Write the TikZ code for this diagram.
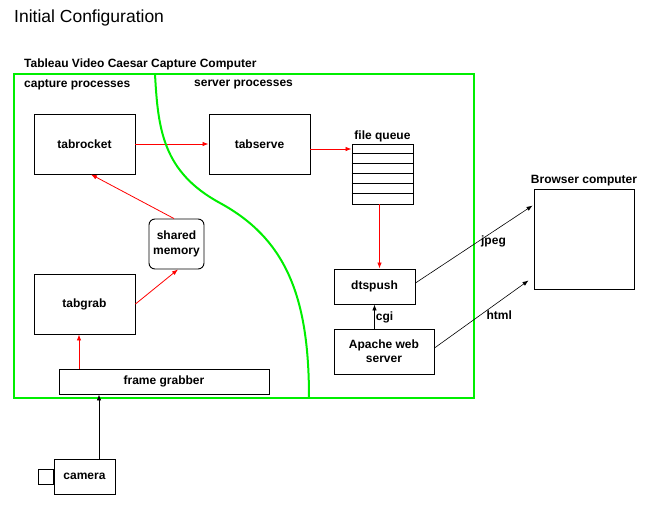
\documentclass[tikz,border=0pt]{standalone}
\usepackage{fontspec}
\setmainfont{Liberation Sans}
\usetikzlibrary{arrows.meta}
\definecolor{framegreen}{RGB}{0,238,0}

\begin{document}
\begin{tikzpicture}[x=1pt,y=-1pt,
  box/.style={draw, line width=0.9pt, inner sep=0pt, align=center,
    font=\fontsize{12}{14.5}\selectfont\bfseries},
  lbl/.style={inner sep=1pt, font=\fontsize{12}{14}\selectfont\bfseries},
  redarrow/.style={red, line width=0.8pt, -{Latex[length=6pt,width=4.5pt]}},
  blkarrow/.style={black, line width=0.7pt, -{Latex[length=6pt,width=4.5pt]}},
  greenline/.style={framegreen, line width=2pt}]

 \useasboundingbox (0,0) rectangle (656,506);

 \node[anchor=west, inner sep=0pt, font=\fontsize{17.5}{20}\selectfont] (title) at (14,18) {Initial Configuration};

% Capture computer frame
 \draw[greenline] (14,74) rectangle (474,398);
 \node[lbl, anchor=west] (computer) at (23,64) {Tableau Video Caesar Capture Computer};
 \node[lbl, anchor=west] (capture) at (23,85) {capture processes};
 \node[lbl, anchor=west] (server) at (193,85) {server processes};

% Processes
 \node[box, minimum width=101, minimum height=60] (tabrocket) at (84.5,144) {tabrocket};
 \node[box, minimum width=101, minimum height=60] (tabserve) at (259.5,144) {tabserve};
 \node[box, minimum width=101, minimum height=60] (tabgrab) at (84.5,304) {tabgrab};
 \node[box, minimum width=55, minimum height=50, rounded corners=6pt,
   font=\fontsize{12}{15}\selectfont\bfseries] (shared) at (176.5,244) {shared\\memory};
 \node[box, minimum width=210, minimum height=25] (grabber) at (164,381.5) {frame grabber};

% File queue with its slots
 \node[box, minimum width=61, minimum height=60] (queue) at (382.5,174) {};
 \foreach \row in {1,...,5}
   \draw[line width=0.9pt] ([yshift=-\row*10pt]queue.north west) -- ([yshift=-\row*10pt]queue.north east);
 \node[lbl, anchor=south] (queuelbl) at (queue.north) {file queue};

 \node[box, minimum width=81, minimum height=35] (dtspush) at (374.5,286.5) {dtspush};
 \node[box, minimum width=100, minimum height=45,
   font=\fontsize{12}{14}\selectfont\bfseries] (apache) at (384,351.5) {Apache web\\server};

% Browser and camera
 \node[box, minimum width=100, minimum height=100] (browser) at (584,239) {};
 \node[lbl, anchor=south] (browserlbl) at ([yshift=1pt]browser.north) {Browser computer};
 \node[box, minimum width=61, minimum height=35] (camera) at (84.5,476.5) {camera};
 \node[box, minimum width=15, minimum height=15, anchor=east] (lens) at (camera.west) {};

% Data flow
 \draw[redarrow] (tabrocket) -- (tabserve);
 \draw[redarrow] ([yshift=-5pt]tabserve.east) -- ([yshift=-5pt]tabserve.east -| queue.west);
 \draw[redarrow] ([xshift=-3pt]queue.south) -- ([xshift=-3pt]queue.south |- dtspush.north);
 \draw[redarrow] ([xshift=-2.5pt]shared.north) -- ([xshift=6.5pt]tabrocket.south);
 \draw[redarrow] (tabgrab.east) -- ([xshift=1.5pt]shared.south);
 \draw[redarrow] ([xshift=-5.5pt]tabgrab.south |- grabber.north) -- ([xshift=-5.5pt]tabgrab.south);
 \draw[blkarrow] ([xshift=14.5pt]camera.north) -- ([xshift=14.5pt]camera.north |- grabber.south);
 \draw[blkarrow] (dtspush.south |- apache.north) -- (dtspush.south)
   node[lbl, pos=0.45, anchor=west] (cgi) {cgi};
 \draw[blkarrow, line width=0.6pt] ([yshift=3.5pt]dtspush.east) -- ([xshift=-1pt,yshift=-17pt]browser.north west)
   node[lbl, pos=0.55, anchor=west, yshift=-1pt] (jpeg) {jpeg};
 \draw[blkarrow, line width=0.6pt] ([yshift=3.5pt]apache.east) -- ([xshift=-5pt,yshift=9pt]browser.south west)
   node[lbl, pos=0.54, anchor=west, yshift=-4pt] (html) {html};

% Boundary between capture and server processes
 \draw[greenline] (155,74) .. controls (158,130) and (163,172) .. (220,203)
   .. controls (288,240) and (309,300) .. (309,398);

\end{tikzpicture}
\end{document}
